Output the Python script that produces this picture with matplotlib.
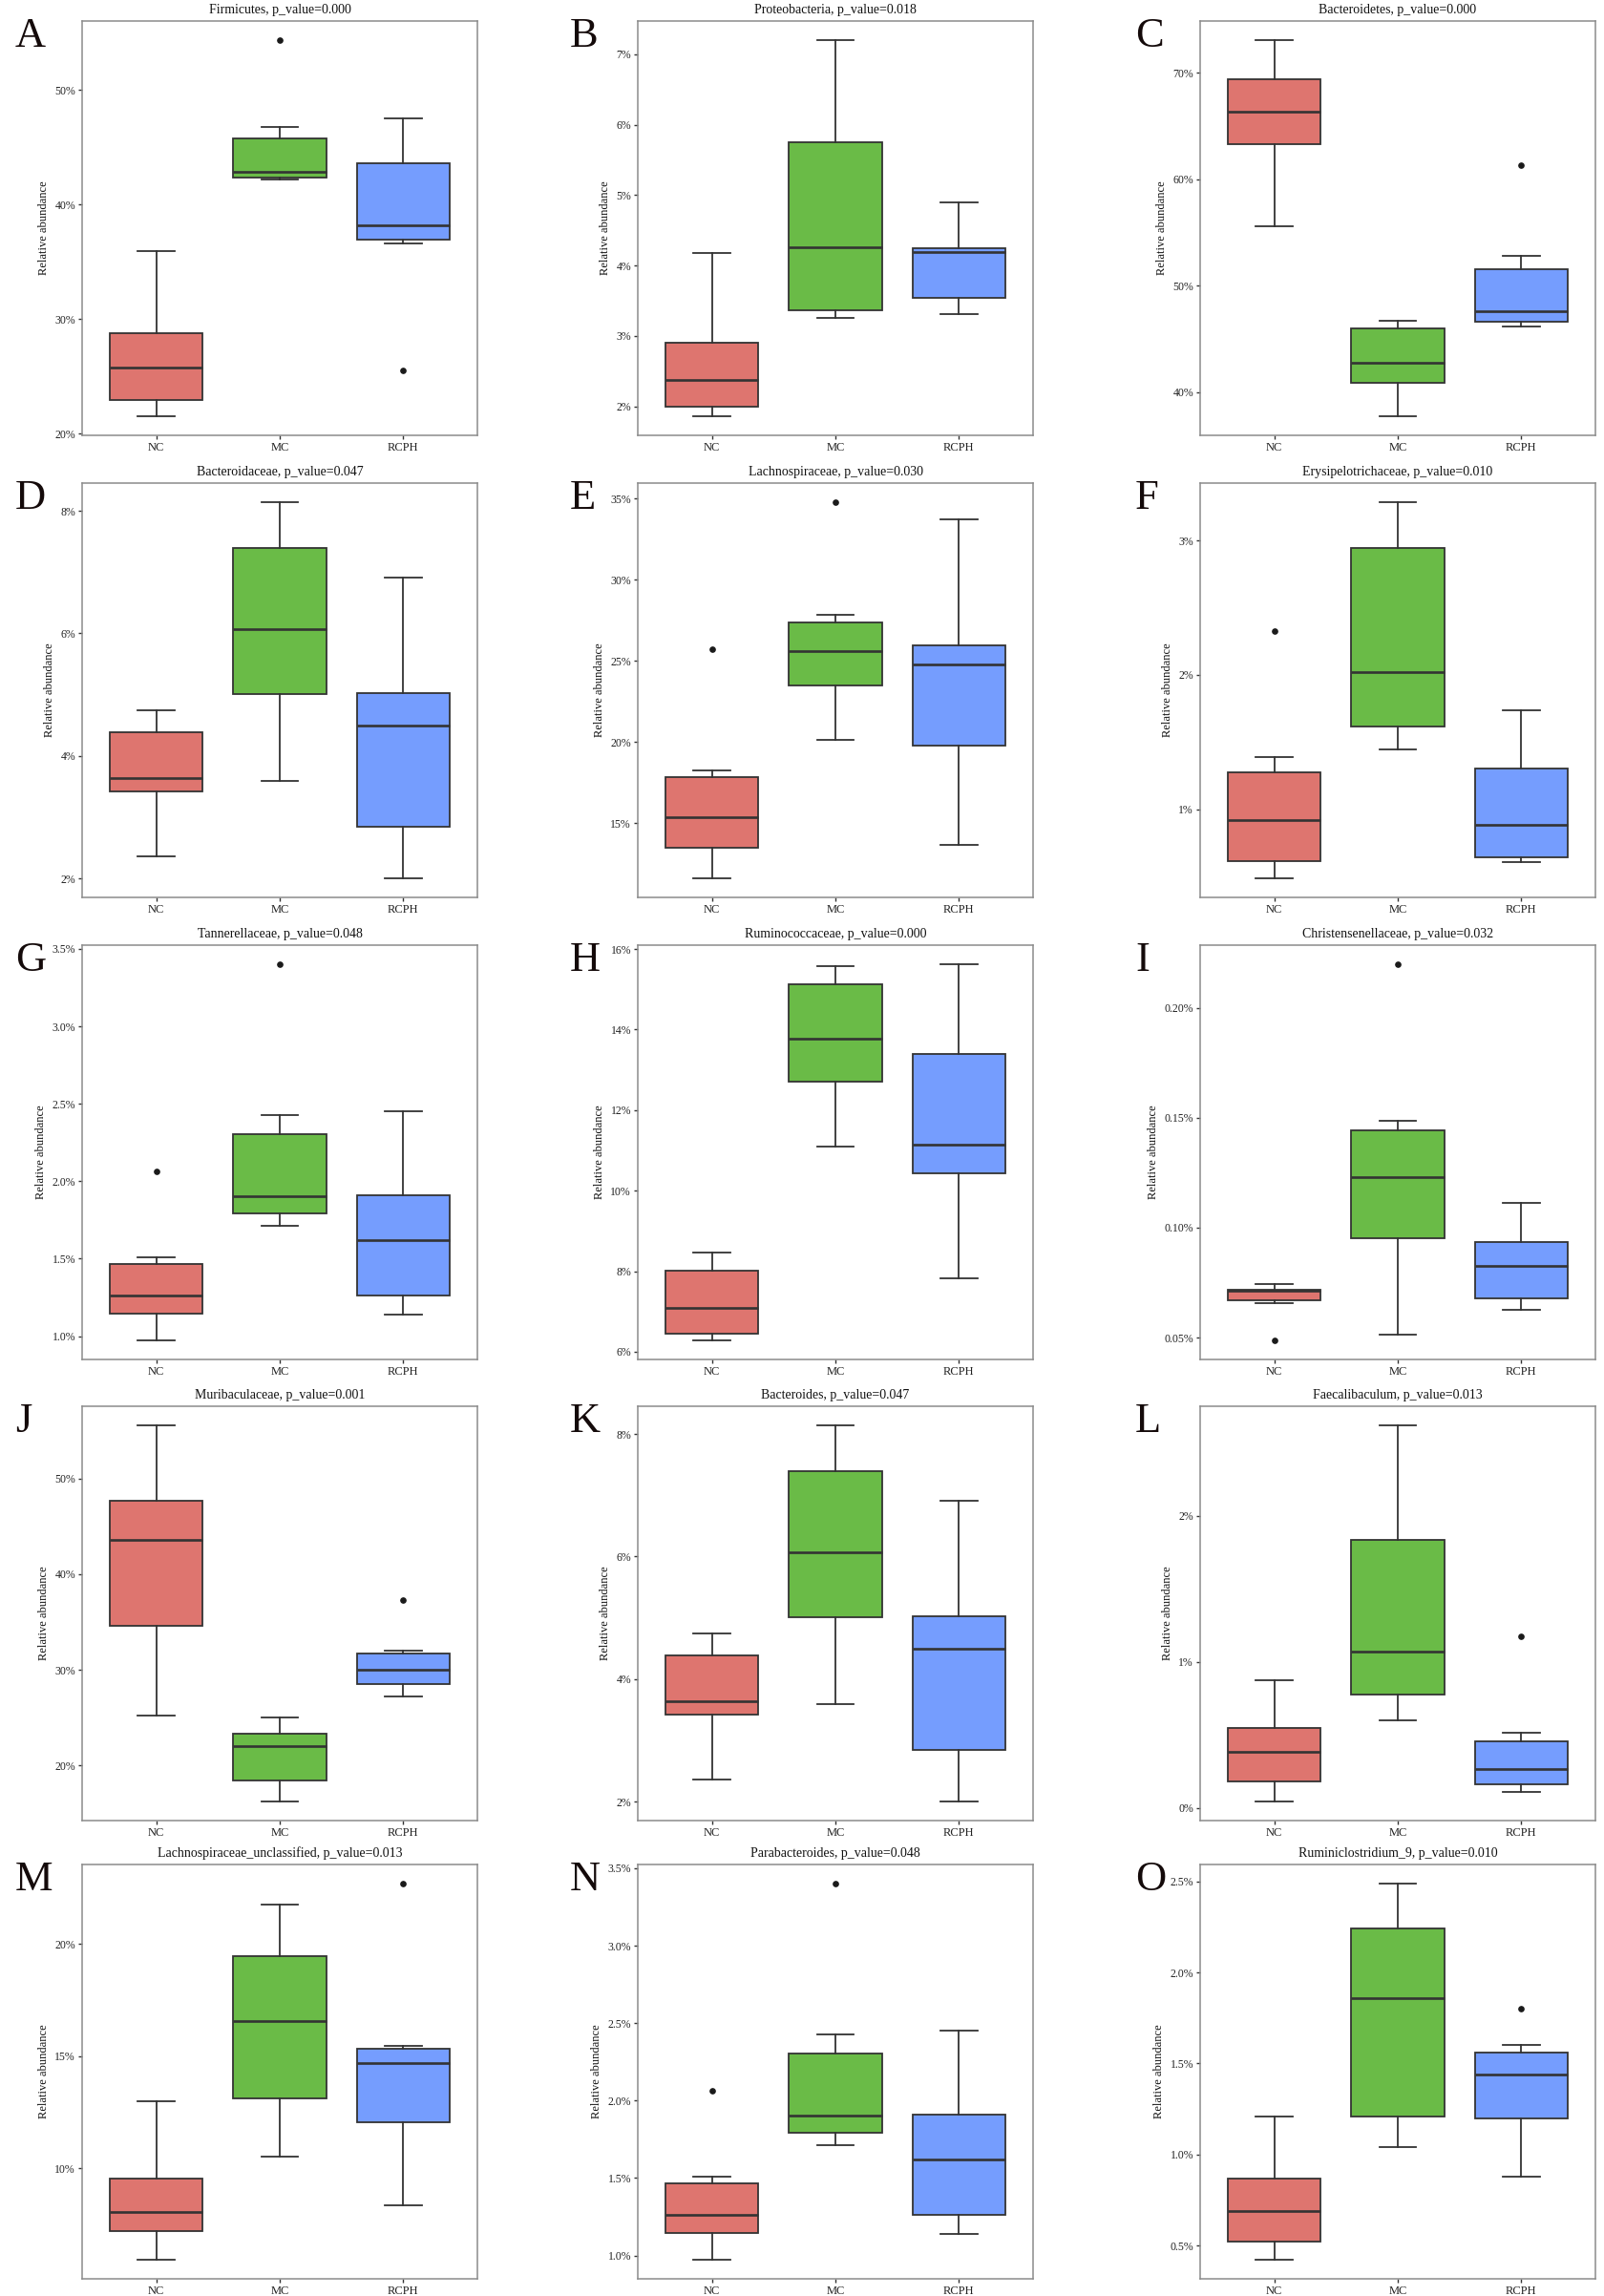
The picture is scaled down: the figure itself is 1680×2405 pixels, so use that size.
import matplotlib
matplotlib.use("Agg")
import matplotlib.pyplot as plt

plt.rcParams["font.family"] = ["Liberation Serif", "DejaVu Serif"]

groups = ["NC", "MC", "RCPH"]
colors = ["#DE756F", "#6ABB47", "#759DFE"]

letters = list("ABCDEFGHIJKLMNO")
titles = [
    "Firmicutes, p_value=0.000",
    "Proteobacteria, p_value=0.018",
    "Bacteroidetes, p_value=0.000",
    "Bacteroidaceae, p_value=0.047",
    "Lachnospiraceae, p_value=0.030",
    "Erysipelotrichaceae, p_value=0.010",
    "Tannerellaceae, p_value=0.048",
    "Ruminococcaceae, p_value=0.000",
    "Christensenellaceae, p_value=0.032",
    "Muribaculaceae, p_value=0.001",
    "Bacteroides, p_value=0.047",
    "Faecalibaculum, p_value=0.013",
    "Lachnospiraceae_unclassified, p_value=0.013",
    "Parabacteroides, p_value=0.048",
    "Ruminiclostridium_9, p_value=0.010",
]

# box statistics in percent, one row per panel, columns NC / MC / RCPH
whis_lo = [
    [21.48, 42.15, 36.57], [1.855, 3.249, 3.312], [55.56, 37.69, 46.18],
    [2.359, 3.584, 1.996], [11.57, 20.10, 13.65], [0.485, 1.444, 0.605],
    [0.971, 1.713, 1.138], [6.276, 11.107, 7.83], [0.0655, 0.0515, 0.0627],
    [25.17, 16.2, 27.2], [2.359, 3.584, 1.996], [0.0414, 0.5991, 0.111],
    [5.90, 10.52, 8.35], [0.971, 1.713, 1.138], [0.42, 1.04, 0.88],
]
q1 = [
    [22.95, 42.37, 36.93], [1.991, 3.362, 3.534], [63.35, 40.87, 46.63],
    [3.418, 5.006, 2.837], [13.47, 23.47, 19.75], [0.615, 1.619, 0.643],
    [1.148, 1.794, 1.265], [6.45, 12.717, 10.42], [0.0669, 0.0950, 0.0678],
    [34.63, 18.4, 28.53], [3.418, 5.006, 2.837], [0.1786, 0.7778, 0.1634],
    [7.18, 13.11, 12.03], [1.148, 1.794, 1.265], [0.52, 1.21, 1.20],
]
med = [
    [25.73, 42.84, 38.16], [2.376, 4.262, 4.19], [66.34, 42.76, 47.56],
    [3.641, 6.075, 4.492], [15.33, 25.61, 24.80], [0.917, 2.017, 0.884],
    [1.265, 1.903, 1.619], [7.089, 13.774, 11.14], [0.0712, 0.1228, 0.0827],
    [43.57, 22.03, 30.03], [3.641, 6.075, 4.492], [0.381, 1.0675, 0.268],
    [8.03, 16.58, 14.68], [1.265, 1.903, 1.619], [0.69, 1.86, 1.44],
]
q3 = [
    [28.72, 45.78, 43.59], [2.896, 5.751, 4.24], [69.43, 46.0, 51.51],
    [4.378, 7.398, 5.016], [17.80, 27.35, 25.96], [1.272, 2.946, 1.303],
    [1.465, 2.303, 1.907], [8.02, 15.13, 13.396], [0.0716, 0.1442, 0.0936],
    [47.67, 23.27, 31.67], [4.378, 7.398, 5.016], [0.5447, 1.832, 0.4575],
    [9.52, 19.45, 15.32], [1.465, 2.303, 1.907], [0.87, 2.24, 1.56],
]
whis_hi = [
    [35.91, 46.75, 47.50], [4.176, 7.204, 4.891], [73.12, 46.72, 52.83],
    [4.746, 8.145, 6.915], [18.22, 27.84, 33.73], [1.388, 3.286, 1.733],
    [1.512, 2.429, 2.449], [8.455, 15.566, 15.63], [0.0742, 0.1485, 0.1114],
    [55.6, 24.97, 31.97], [4.746, 8.145, 6.915], [0.8715, 2.621, 0.5142],
    [12.99, 21.74, 15.46], [1.512, 2.429, 2.449], [1.21, 2.49, 1.60],
]
outliers = [
    [[], [54.36], [25.51]], [[], [], []], [[], [], [61.31]],
    [[], [], []], [[25.69], [34.80], []], [[2.326], [], []],
    [[2.063], [3.403], []], [[], [], []], [[0.0486], [0.2200], []],
    [[], [], [37.27]], [[], [], []], [[], [], [1.1765]],
    [[], [], [22.71]], [[2.063], [3.403], []], [[], [], [1.80]],
]
yticks = [
    [20, 30, 40, 50], [2, 3, 4, 5, 6, 7], [40, 50, 60, 70],
    [2, 4, 6, 8], [15, 20, 25, 30, 35], [1, 2, 3],
    [1.0, 1.5, 2.0, 2.5, 3.0, 3.5], [6, 8, 10, 12, 14, 16], [0.05, 0.10, 0.15, 0.20],
    [20, 30, 40, 50], [2, 4, 6, 8], [0, 1, 2],
    [10, 15, 20], [1.0, 1.5, 2.0, 2.5, 3.0, 3.5], [0.5, 1.0, 1.5, 2.0, 2.5],
]
ydec = [0, 0, 0, 0, 0, 0, 1, 0, 2, 0, 0, 0, 0, 1, 1]

W, H = 1680, 2405
fig = plt.figure(figsize=(W / 100, H / 100), dpi=100)
fig.patch.set_facecolor("white")

col_left = [86, 668, 1257]
row_top = [22, 506, 990, 1473, 1953]
aw, ah = 414, 434
letter_x = [16, 597, 1189]

for i in range(15):
    r, c = divmod(i, 3)
    ax = fig.add_axes([col_left[c] / W, 1 - (row_top[r] + ah) / H, aw / W, ah / H])

    stats = []
    for g in range(3):
        stats.append({
            "whislo": whis_lo[i][g], "q1": q1[i][g], "med": med[i][g],
            "q3": q3[i][g], "whishi": whis_hi[i][g], "fliers": outliers[i][g],
        })
    bp = ax.bxp(stats, positions=[1, 2, 3], widths=0.75, capwidths=0.3,
                patch_artist=True,
                boxprops=dict(edgecolor="#333333", linewidth=1.3),
                medianprops=dict(color="#333333", linewidth=1.9),
                whiskerprops=dict(color="#333333", linewidth=1.3),
                capprops=dict(color="#333333", linewidth=1.3),
                flierprops=dict(marker="o", markersize=3.8, markerfacecolor="#1a1a1a",
                                markeredgecolor="#1a1a1a"))
    for patch, col in zip(bp["boxes"], colors):
        patch.set_facecolor(col)

    # ggplot-like 5% expansion of the data range
    vals = whis_lo[i] + whis_hi[i] + [v for f in outliers[i] for v in f]
    lo, hi = min(vals), max(vals)
    pad = (hi - lo) * 0.05
    ax.set_ylim(lo - pad, hi + pad)
    ax.set_xlim(0.4, 3.6)

    ax.set_yticks(yticks[i])
    ax.set_yticklabels([f"{t:.{ydec[i]}f}%" for t in yticks[i]])
    ax.set_xticks([1, 2, 3])
    ax.set_xticklabels(groups)
    ax.tick_params(axis="both", length=3, width=1.0, color="#333333",
                   labelsize=8.5, labelcolor="#222222", pad=2)
    ax.tick_params(axis="x", labelsize=9)
    for s in ax.spines.values():
        s.set_color("#8c8c8c")
        s.set_linewidth(1.1)
    ax.set_ylabel("Relative abundance", fontsize=9, color="#111111", labelpad=4)
    ax.set_title(titles[i], fontsize=10, pad=6, color="#111111")

    fig.text(letter_x[c] / W, 1 - (row_top[r] - 4) / H, letters[i],
             fontsize=32, va="top", ha="left", color="#140a0a")

fig.savefig("out.png", dpi=100, facecolor="white")
